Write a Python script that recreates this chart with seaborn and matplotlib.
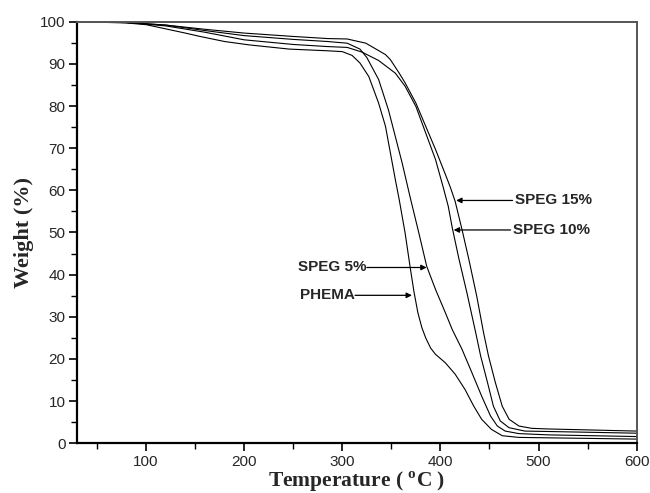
import numpy as np
import pandas as pd
import seaborn as sns
import matplotlib
matplotlib.use("Agg")
import matplotlib.pyplot as plt
from matplotlib.ticker import MultipleLocator

# ---- data (Temperature in °C, Weight in %) ----
phema_T = [30, 80, 100, 120, 140, 155, 180, 205, 246, 285, 300, 310, 318, 327, 337, 344, 349, 354, 358,
           364, 369, 373, 377, 381, 385, 390, 395, 405, 415, 425, 434, 442, 452, 463, 480, 510, 600]
phema_W = [100, 99.7, 99.3, 98.3, 97.3, 96.5, 95.3, 94.5, 93.5, 93.1, 92.9, 92.0, 90.2, 87.0, 80.7, 75.2, 68.9, 62.6, 57.8,
           49.9, 42.0, 36.0, 31.0, 27.5, 25.0, 22.6, 21.1, 19.1, 16.4, 12.8, 8.8, 5.7, 3.3, 1.8, 1.4, 1.3, 1.0]

speg5_T = [30, 80, 120, 160, 200, 250, 285, 305, 318, 325, 337, 347, 354, 361, 369, 378, 386, 395, 405, 412,
           422, 432, 442, 451, 458, 466, 480, 510, 600]
speg5_W = [100, 99.8, 99.2, 97.9, 96.7, 95.8, 95.3, 94.9, 93.5, 91.5, 86.3, 79.1, 72.8, 66.5, 58.5, 49.9, 42.0, 36.5, 31.0, 27.0,
           22.3, 16.8, 11.2, 6.5, 4.1, 2.9, 2.3, 2.0, 1.6]

speg10_T = [30, 80, 120, 160, 200, 250, 285, 305, 320, 337, 354, 364, 375, 385, 395, 403, 408, 412, 419, 427,
            436, 441, 448, 454, 461, 470, 486, 510, 600]
speg10_W = [100, 99.8, 99.0, 97.5, 95.7, 94.6, 94.1, 93.9, 92.8, 90.8, 87.8, 84.7, 79.9, 73.6, 67.3, 60.6, 56.2, 51.2, 43.6, 35.7,
            26.2, 20.7, 14.4, 8.8, 5.3, 3.7, 2.9, 2.8, 2.4]

speg15_T = [30, 80, 120, 160, 200, 250, 285, 305, 324, 344, 349, 358, 364, 375, 385, 395, 405, 410, 415, 422, 429,
            437, 444, 449, 456, 463, 470, 480, 493, 510, 600]
speg15_W = [100, 99.8, 99.2, 98.2, 97.3, 96.5, 96.0, 95.9, 94.9, 92.2, 91.0, 87.8, 85.5, 80.7, 75.2, 69.7, 63.8, 60.8, 57.4, 50.7, 43.6,
            34.9, 26.2, 20.7, 14.4, 8.8, 5.7, 4.1, 3.55, 3.4, 2.9]

series_names = ["PHEMA", "SPEG 5%", "SPEG 10%", "SPEG 15%"]
x_ticks = [100, 200, 300, 400, 500, 600]
y_ticks = [0, 10, 20, 30, 40, 50, 60, 70, 80, 90, 100]

frames = []
for name, T, W in zip(series_names,
                      [phema_T, speg5_T, speg10_T, speg15_T],
                      [phema_W, speg5_W, speg10_W, speg15_W]):
    frames.append(pd.DataFrame({"Temperature": T, "Weight": W, "Sample": name}))
df = pd.concat(frames, ignore_index=True)

sns.set_style("ticks")
plt.rcParams["font.family"] = ["Liberation Sans", "DejaVu Sans"]
plt.rcParams["mathtext.fontset"] = "custom"
plt.rcParams["mathtext.rm"] = "Liberation Serif:bold"
plt.rcParams["mathtext.bf"] = "Liberation Serif:bold"

fig = plt.figure(figsize=(6.5, 4.93), dpi=100)
ax = fig.add_axes([0.119, 0.1008, 0.8605, 0.8552])

sns.lineplot(data=df, x="Temperature", y="Weight", hue="Sample",
             palette={n: "black" for n in series_names}, estimator=None,
             sort=False, linewidth=0.8, legend=False, ax=ax)

ax.set_xlim(30, 600)
ax.set_ylim(0, 100)
ax.set_xticks(x_ticks)
ax.set_yticks(y_ticks)
ax.xaxis.set_minor_locator(MultipleLocator(50))
ax.yaxis.set_minor_locator(MultipleLocator(5))
ax.tick_params(axis="both", which="major", direction="out", length=6, width=1.2,
               labelsize=11, top=False, right=False, color="black", pad=2.5)
ax.tick_params(axis="both", which="minor", direction="out", length=4, width=1.0,
               top=False, right=False, color="black")
for lab in ax.get_xticklabels() + ax.get_yticklabels():
    lab.set_family(["Liberation Sans", "DejaVu Sans"])

for s in ["left", "bottom"]:
    ax.spines[s].set_linewidth(1.6)
    ax.spines[s].set_color("black")
for s in ["top", "right"]:
    ax.spines[s].set_linewidth(1.4)
    ax.spines[s].set_color("#555555")

ax.set_xlabel(r"Temperature ( $^{\rm o}$C )", fontsize=15.5, fontweight="bold",
              family=["Liberation Serif", "DejaVu Serif"])
ax.xaxis.set_label_coords(0.5, -0.063)
ax.set_ylabel("Weight (%)", fontsize=16, fontweight="bold",
              family=["Liberation Serif", "DejaVu Serif"], labelpad=4)

arrow = dict(arrowstyle="-|>", color="black", lw=0.9, mutation_scale=8,
             shrinkA=0, shrinkB=0)
tfont = dict(fontsize=11, fontweight="bold", family=["Liberation Sans", "DejaVu Sans"], va="center")

# right-side labels
ax.annotate("", xy=(416, 57.6), xytext=(473.5, 57.6), arrowprops=arrow)
ax.text(476, 57.6, "SPEG 15%", ha="left", **tfont)
ax.annotate("", xy=(413.5, 50.6), xytext=(471.5, 50.6), arrowprops=arrow)
ax.text(473.5, 50.6, "SPEG 10%", ha="left", **tfont)
# left-side labels
ax.annotate("", xy=(386, 41.7), xytext=(325, 41.7), arrowprops=arrow)
ax.text(324.5, 41.7, "SPEG 5%", ha="right", **tfont)
ax.annotate("", xy=(371, 35.1), xytext=(313, 35.1), arrowprops=arrow)
ax.text(312.5, 35.1, "PHEMA", ha="right", **tfont)

fig.savefig("out.png", dpi=100)
